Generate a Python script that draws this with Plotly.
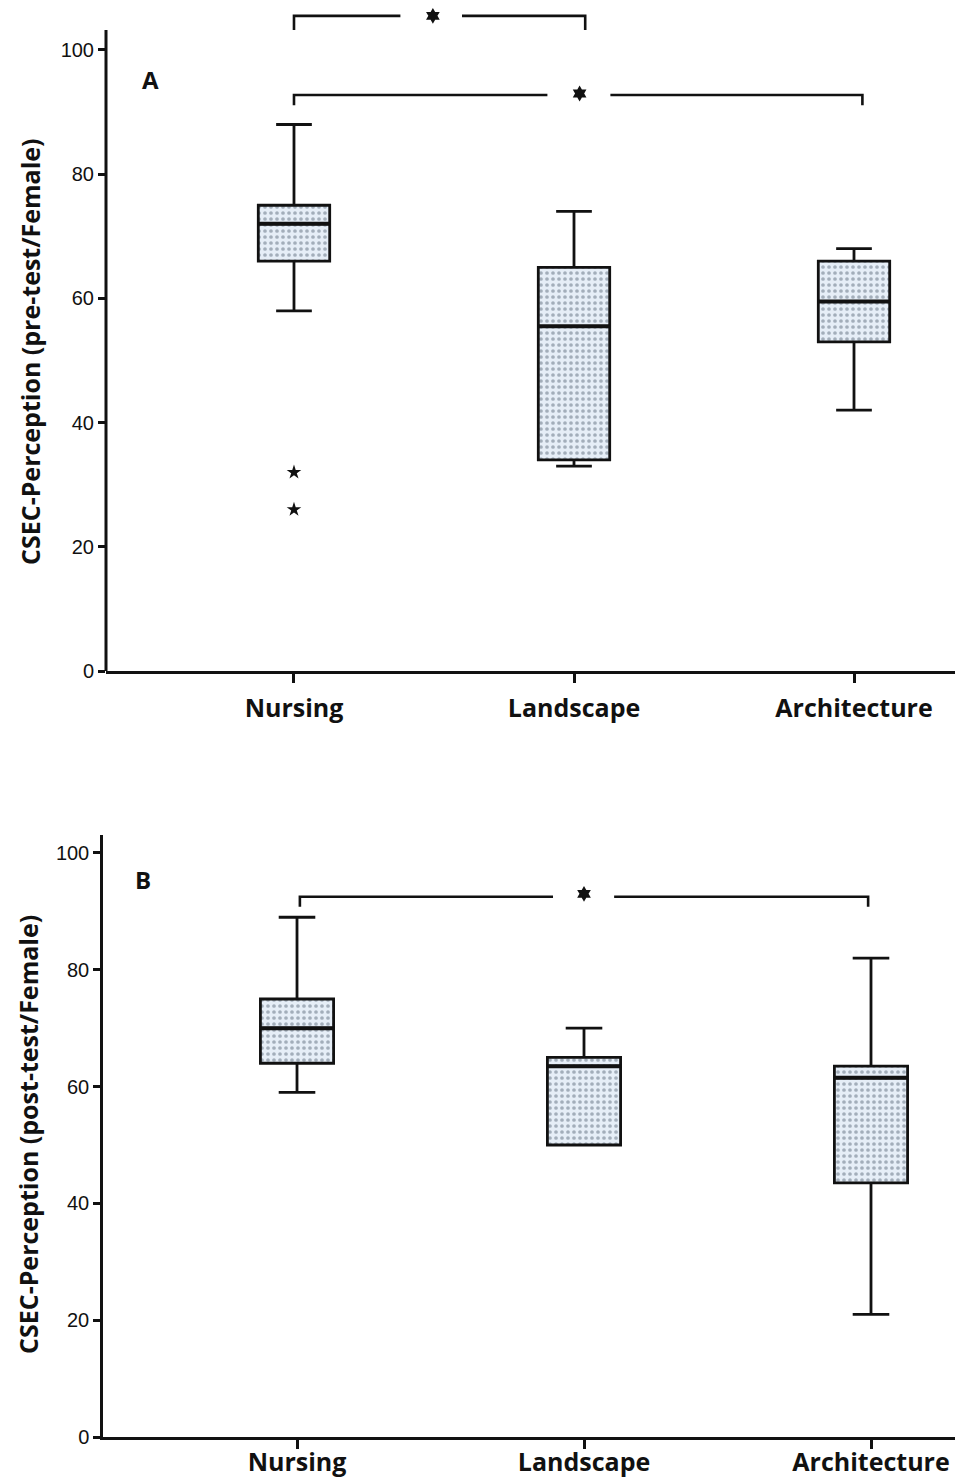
import plotly.graph_objects as go

categories = ["Nursing", "Landscape", "Architecture"]

# Panel A (pre-test)
a_low = [58, 33, 42]
a_q1 = [66, 34, 53]
a_med = [72, 55.5, 59.5]
a_q3 = [75, 65, 66]
a_high = [88, 74, 68]
a_outlier_x = [0, 0]
a_outlier_y = [32, 26]

# Panel B (post-test)
b_low = [59, 50, 21]
b_q1 = [64, 50, 43.5]
b_med = [70, 63.5, 61.5]
b_q3 = [75, 65, 63.5]
b_high = [89, 70, 82]

xpos = [0, 1, 2]

BOX_W = 0.255
FILL_BG = "#e6eef7"
FILL_FG = "#5f6e7e"
INK = "#111111"

fig = go.Figure()


def add_panel(fig, low, q1, med, q3, high, xa, ya):
    # dotted fill
    fig.add_trace(go.Bar(
        x=xpos, y=[b - a for a, b in zip(q1, q3)], base=q1, width=BOX_W,
        marker=dict(color=FILL_BG, line=dict(width=0),
                    pattern=dict(shape=".", bgcolor=FILL_BG, fgcolor=FILL_FG,
                                 size=6, solidity=0.3)),
        xaxis=xa, yaxis=ya, hoverinfo="skip"))
    # box outline + whiskers
    fig.add_trace(go.Box(
        x=xpos, q1=q1, median=med, q3=q3, lowerfence=low, upperfence=high,
        width=BOX_W, whiskerwidth=0.5, fillcolor="rgba(0,0,0,0)",
        line=dict(color=INK, width=2.8), boxpoints=False,
        xaxis=xa, yaxis=ya))
    # thick median line
    fig.add_trace(go.Box(
        x=xpos, q1=med, median=med, q3=med, lowerfence=med, upperfence=med,
        width=BOX_W, whiskerwidth=0, fillcolor="rgba(0,0,0,0)",
        line=dict(color=INK, width=4), boxpoints=False,
        xaxis=xa, yaxis=ya))


add_panel(fig, a_low, a_q1, a_med, a_q3, a_high, "x", "y")
add_panel(fig, b_low, b_q1, b_med, b_q3, b_high, "x2", "y2")

# outliers
fig.add_trace(go.Scatter(x=a_outlier_x, y=a_outlier_y, mode="markers",
                         marker=dict(symbol="star", size=11, color=INK),
                         xaxis="x", yaxis="y", cliponaxis=False))

# significance brackets: (x0, x1, y_top, y_leg, gap_start, gap_end, star_x, star_y, axes)
brackets = [
    (0.0, 1.04, 105.5, 103.2, 0.38, 0.60, 0.496, 105.5, "x", "y"),
    (0.0, 2.03, 92.75, 91.1, 0.905, 1.13, 1.02, 93.0, "x", "y"),
    (0.01, 1.99, 92.5, 90.8, 0.892, 1.105, 1.0, 93.0, "x2", "y2"),
]
for x0, x1, yt, yl, g0, g1, sx, sy, xa, ya in brackets:
    path = f"M {x0},{yl} L {x0},{yt} L {g0},{yt} M {g1},{yt} L {x1},{yt} L {x1},{yl}"
    fig.add_shape(type="path", path=path, xref=xa, yref=ya,
                  line=dict(color=INK, width=2.6))
    fig.add_trace(go.Scatter(x=[sx], y=[sy], mode="markers",
                             marker=dict(symbol="hexagram", size=12, color=INK),
                             xaxis=xa, yaxis=ya, cliponaxis=False))

# y axis line for panel A (stops a little above 100)
fig.add_shape(type="line", xref="x domain", yref="y", x0=0, x1=0, y0=0, y1=103.2,
              line=dict(color=INK, width=3))

tick_font = dict(family="Liberation Sans Narrow, Arial Narrow, Liberation Sans, sans-serif",
                 size=20, color=INK)
cat_font = dict(family="Open Sans, sans-serif", size=25, color=INK, weight="bold")

common_y = dict(tickvals=[0, 20, 40, 60, 80, 100], ticks="outside", ticklen=7,
                tickwidth=2.5, tickcolor=INK, tickfont=tick_font, showgrid=False,
                zeroline=False, automargin=False)
common_x = dict(tickvals=xpos, ticktext=categories, ticks="outside", ticklen=9,
                tickwidth=2.5, tickcolor=INK, tickfont=cat_font, showgrid=False,
                zeroline=False, showline=True, linecolor=INK, linewidth=3,
                automargin=False)

fig.update_layout(
    width=959, height=1477,
    margin=dict(l=0, r=0, t=0, b=40),
    paper_bgcolor="white", plot_bgcolor="white",
    showlegend=False,
    xaxis=dict(domain=[106 / 959, 955 / 959], range=[-0.6714, 2.3607],
               anchor="y", ticklabelstandoff=4, **common_x),
    yaxis=dict(domain=[(1437 - 671) / 1437, 1], range=[0, 108.05],
               anchor="x", showline=False, **common_y),
    xaxis2=dict(domain=[103 / 959, 955 / 959], range=[-0.676, 2.2927],
                anchor="y2", ticklabelstandoff=-8, **common_x),
    yaxis2=dict(domain=[0, (1437 - 835) / 1437], range=[0, 103.08],
                anchor="x2", showline=True, linecolor=INK, linewidth=2.5, **common_y),
)

title_font = dict(family="Open Sans, sans-serif", size=25, color=INK, weight="bold")
fig.add_annotation(text="CSEC-Perception (pre-test/Female)", xref="paper", yref="paper",
                   x=30 / 959, y=(1437 - 352) / 1437, textangle=-90, showarrow=False,
                   font=title_font, xanchor="center", yanchor="middle")
fig.add_annotation(text="CSEC-Perception (post-test/Female)", xref="paper", yref="paper",
                   x=28 / 959, y=(1437 - 1135) / 1437, textangle=-90, showarrow=False,
                   font=title_font, xanchor="center", yanchor="middle")

label_font = dict(family="Open Sans, sans-serif", size=24, color=INK, weight="bold")
fig.add_annotation(text="A", xref="x", yref="y", x=-0.514, y=95.2, showarrow=False,
                   font=label_font)
fig.add_annotation(text="B", xref="x2", yref="y2", x=-0.537, y=95.4, showarrow=False,
                   font=label_font)

fig.write_html("out.html")
